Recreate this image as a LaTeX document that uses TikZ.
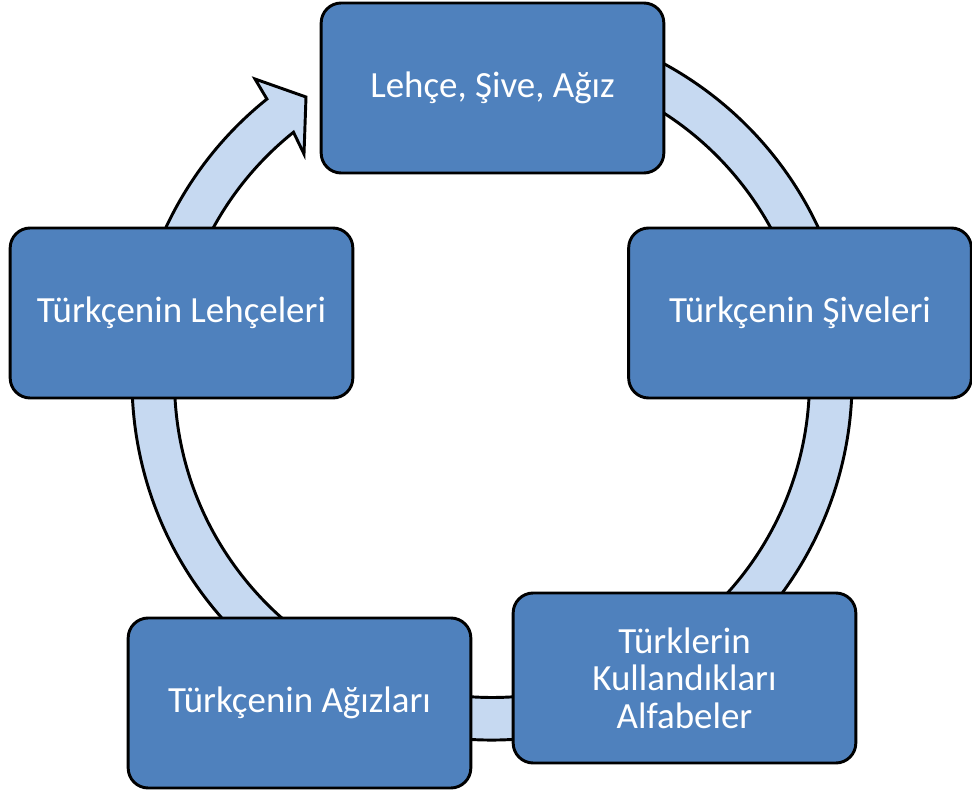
\documentclass[tikz,border=0pt]{standalone}
\usepackage{fontspec}
\setmainfont{Carlito}
\usetikzlibrary{calc}
\definecolor{boxblue}{HTML}{4F81BD}
\definecolor{ringblue}{HTML}{C6D9F1}
\begin{document}
\begin{tikzpicture}[x=0.75pt,y=0.75pt,
  stage/.style={draw=black, line width=2.2pt, fill=boxblue, rounded corners=15pt,
    minimum width=257pt, minimum height=127.5pt, inner sep=0pt, text=white,
    align=center, font=\fontsize{27.7}{28.2}\selectfont},
  ring/.style={draw=black, line width=2.2pt, fill=ringblue, line join=miter}]
\useasboundingbox (0,0) rectangle (972,794);

% circular arrow running clockwise behind the stages
\coordinate (c) at (492,414);
\path[ring] ($(c)+(100:360)$) arc[start angle=100, end angle=-231.3, radius=360]
  -- (255,715) -- (306,697) -- (304,640)
  -- ($(c)+(-231.3:317.5)$) arc[start angle=-231.3, end angle=100, radius=317.5]
  -- cycle;

% stages
\node[stage] (top)   at (492.5,706) {Lehçe, Şive, Ağız};
\node[stage] (right) at (800,481)   {Türkçenin Şiveleri};
\node[stage] (br)    at (684.5,116) {Türklerin\\Kullandıkları\\Alfabeler};
\node[stage] (bl)    at (299.5,91)  {Türkçenin Ağızları};
\node[stage] (left)  at (181.5,481) {Türkçenin Lehçeleri};
\end{tikzpicture}
\end{document}
